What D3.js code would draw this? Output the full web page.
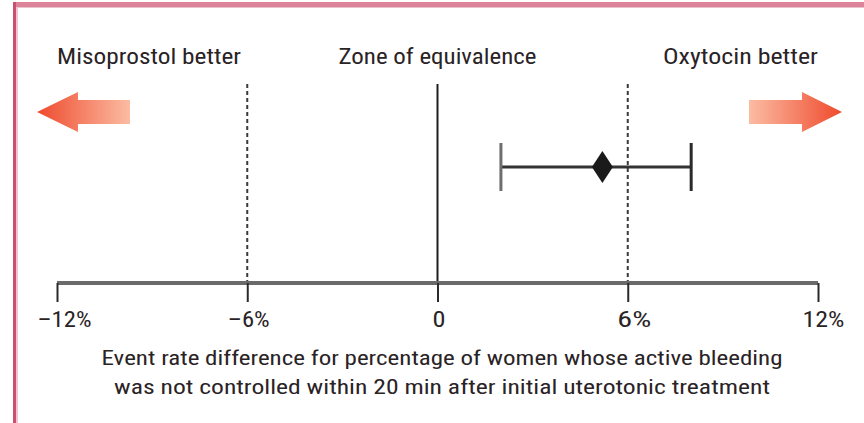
<!DOCTYPE html>
<html>
<head>
<meta charset="utf-8">
<script src="https://cdn.jsdelivr.net/npm/d3@7"></script>
<style>
  html, body { margin: 0; padding: 0; background: #fff; }
  svg { display: block; }
  text { font-family: "Liberation Sans Narrow", "Roboto Condensed", "Open Sans", Roboto, sans-serif; fill: #2a2326; }
</style>
</head>
<body>
<svg id="chart" width="864" height="423"></svg>
<script>
// Axis ticks (event rate difference, %)
const tickValues = [-12, -6, 0, 6, 12];
const tickLabels = ["\u201312%", "\u20136%", "0", "6%", "12%"];

// Equivalence margins and reference line
const marginValues = [-6, 6];
const zeroValue = [0];

// Point estimate with 95% CI (percentage points)
const estimate = [5.2];
const ciLow = [2.0];
const ciHigh = [8.0];

// Header labels
const headerLabels = ["Misoprostol better", "Zone of equivalence", "Oxytocin better"];
const axisTitle = [
  "Event rate difference for percentage of women whose active bleeding",
  "was not controlled within 20 min after initial uterotonic treatment"
];

const svg = d3.select("#chart");
const W = 864, H = 423;
const FONT = "'Liberation Sans Narrow', 'Roboto Condensed', 'Open Sans', Roboto, sans-serif";

const x = d3.scaleLinear().domain([-12, 12]).range([57, 818]);

const axisY = 283;
const topY = 84;
const rowY = 167;

// Pink frame: top band and left rule
svg.append("rect").attr("x", 13).attr("y", 2).attr("width", W - 13).attr("height", 5.5).attr("fill", "#dc8399");
svg.append("rect").attr("x", 13).attr("y", 2).attr("width", 3).attr("height", H).attr("fill", "#c9506f");
svg.append("rect").attr("x", 16).attr("y", 7).attr("width", 2).attr("height", H).attr("fill", "#f2c3d0");

// Gradients for the direction arrows
const defs = svg.append("defs");
const gL = defs.append("linearGradient").attr("id", "gradLeft")
  .attr("x1", "0%").attr("x2", "100%").attr("y1", "0%").attr("y2", "0%");
gL.append("stop").attr("offset", "0%").attr("stop-color", "#ef4a2d");
gL.append("stop").attr("offset", "100%").attr("stop-color", "#fbbca3");
const gR = defs.append("linearGradient").attr("id", "gradRight")
  .attr("x1", "0%").attr("x2", "100%").attr("y1", "0%").attr("y2", "0%");
gR.append("stop").attr("offset", "0%").attr("stop-color", "#fbbca3");
gR.append("stop").attr("offset", "100%").attr("stop-color", "#ef4a2d");

function arrowPath(tip, headBase, tail, cy) {
  const hh = 20, sh = 12;
  return [
    [tip, cy], [headBase, cy - hh], [headBase, cy - sh], [tail, cy - sh],
    [tail, cy + sh], [headBase, cy + sh], [headBase, cy + hh]
  ].map((p, i) => (i ? "L" : "M") + p[0] + "," + p[1]).join("") + "Z";
}
svg.append("path").attr("d", arrowPath(37, 78, 130, 112)).attr("fill", "url(#gradLeft)");
svg.append("path").attr("d", arrowPath(842, 802, 749, 112)).attr("fill", "url(#gradRight)");

// Header labels
const headerPos = [
  { anchor: "start", xv: -12 },
  { anchor: "middle", xv: 0 },
  { anchor: "end", xv: 12 }
];
const headerWidths = [184, 198, 155];
svg.selectAll("text.header").data(headerLabels).join("text")
  .attr("class", "header")
  .attr("x", (d, i) => x(headerPos[i].xv))
  .attr("y", 64)
  .attr("text-anchor", (d, i) => headerPos[i].anchor)
  .style("font-size", "22px")
  .attr("textLength", (d, i) => headerWidths[i])
  .attr("lengthAdjust", "spacingAndGlyphs")
  .text(d => d);

// Equivalence margins (dashed)
svg.selectAll("line.margin").data(marginValues).join("line")
  .attr("class", "margin")
  .attr("x1", d => x(d)).attr("x2", d => x(d))
  .attr("y1", topY).attr("y2", axisY)
  .attr("stroke", "#3a3a3a").attr("stroke-width", 2)
  .attr("stroke-dasharray", "4,3");

// Zero line
svg.selectAll("line.zero").data(zeroValue).join("line")
  .attr("class", "zero")
  .attr("x1", d => x(d)).attr("x2", d => x(d))
  .attr("y1", topY).attr("y2", axisY)
  .attr("stroke", "#1e1e1e").attr("stroke-width", 2);

// Axis with ticks
const axis = d3.axisBottom(x).tickValues(tickValues).tickSize(19)
  .tickFormat((d, i) => tickLabels[i]);
const gAxis = svg.append("g").attr("transform", `translate(0,${axisY})`).call(axis);
gAxis.attr("font-size", null).attr("font-family", null);
gAxis.select(".domain").attr("stroke", "#6a6a6a").attr("stroke-width", 4)
  .attr("d", `M${x(-12)},0H${x(12)}`);
gAxis.selectAll(".tick line").attr("stroke", "#2a2a2a").attr("stroke-width", 2);
const tickWidths = [54, 42, 13, 34, 42];
const tickShift = [7, 1, 1, 6, 5];
gAxis.selectAll(".tick text")
  .style("font-size", "22px")
  .style("font-family", FONT)
  .attr("fill", "#2a2326")
  .attr("x", (d, i) => tickShift[i])
  .attr("y", 44)
  .attr("dy", 0)
  .attr("textLength", (d, i) => tickWidths[i])
  .attr("lengthAdjust", "spacingAndGlyphs");

// Confidence interval and estimate
const row = svg.append("g");
row.selectAll("line.ci").data(estimate).join("line")
  .attr("class", "ci")
  .attr("x1", (d, i) => x(ciLow[i])).attr("x2", (d, i) => x(ciHigh[i]))
  .attr("y1", rowY).attr("y2", rowY)
  .attr("stroke", "#333").attr("stroke-width", 3);
const caps = ciLow.map((v, i) => [v, ciHigh[i]]).flat();
row.selectAll("line.cap").data(caps).join("line")
  .attr("class", "cap")
  .attr("x1", d => x(d)).attr("x2", d => x(d))
  .attr("y1", rowY - 24).attr("y2", rowY + 24)
  .attr("stroke", (d, i) => i === 0 ? "#6e6e6e" : "#2a2a2a").attr("stroke-width", 3);
row.selectAll("path.est").data(estimate).join("path")
  .attr("class", "est")
  .attr("d", d => {
    const cx = x(d);
    return `M${cx - 10.5},${rowY}L${cx},${rowY - 16}L${cx + 10.5},${rowY}L${cx},${rowY + 16}Z`;
  })
  .attr("fill", "#1a1a1a");

// Axis title
const titleWidths = [681, 656];
svg.selectAll("text.title").data(axisTitle).join("text")
  .attr("class", "title")
  .attr("x", 442)
  .attr("y", (d, i) => 365 + i * 29)
  .attr("text-anchor", "middle")
  .style("font-size", "20.5px")
  .attr("textLength", (d, i) => titleWidths[i])
  .attr("lengthAdjust", "spacingAndGlyphs")
  .text(d => d);
</script>
</body>
</html>
